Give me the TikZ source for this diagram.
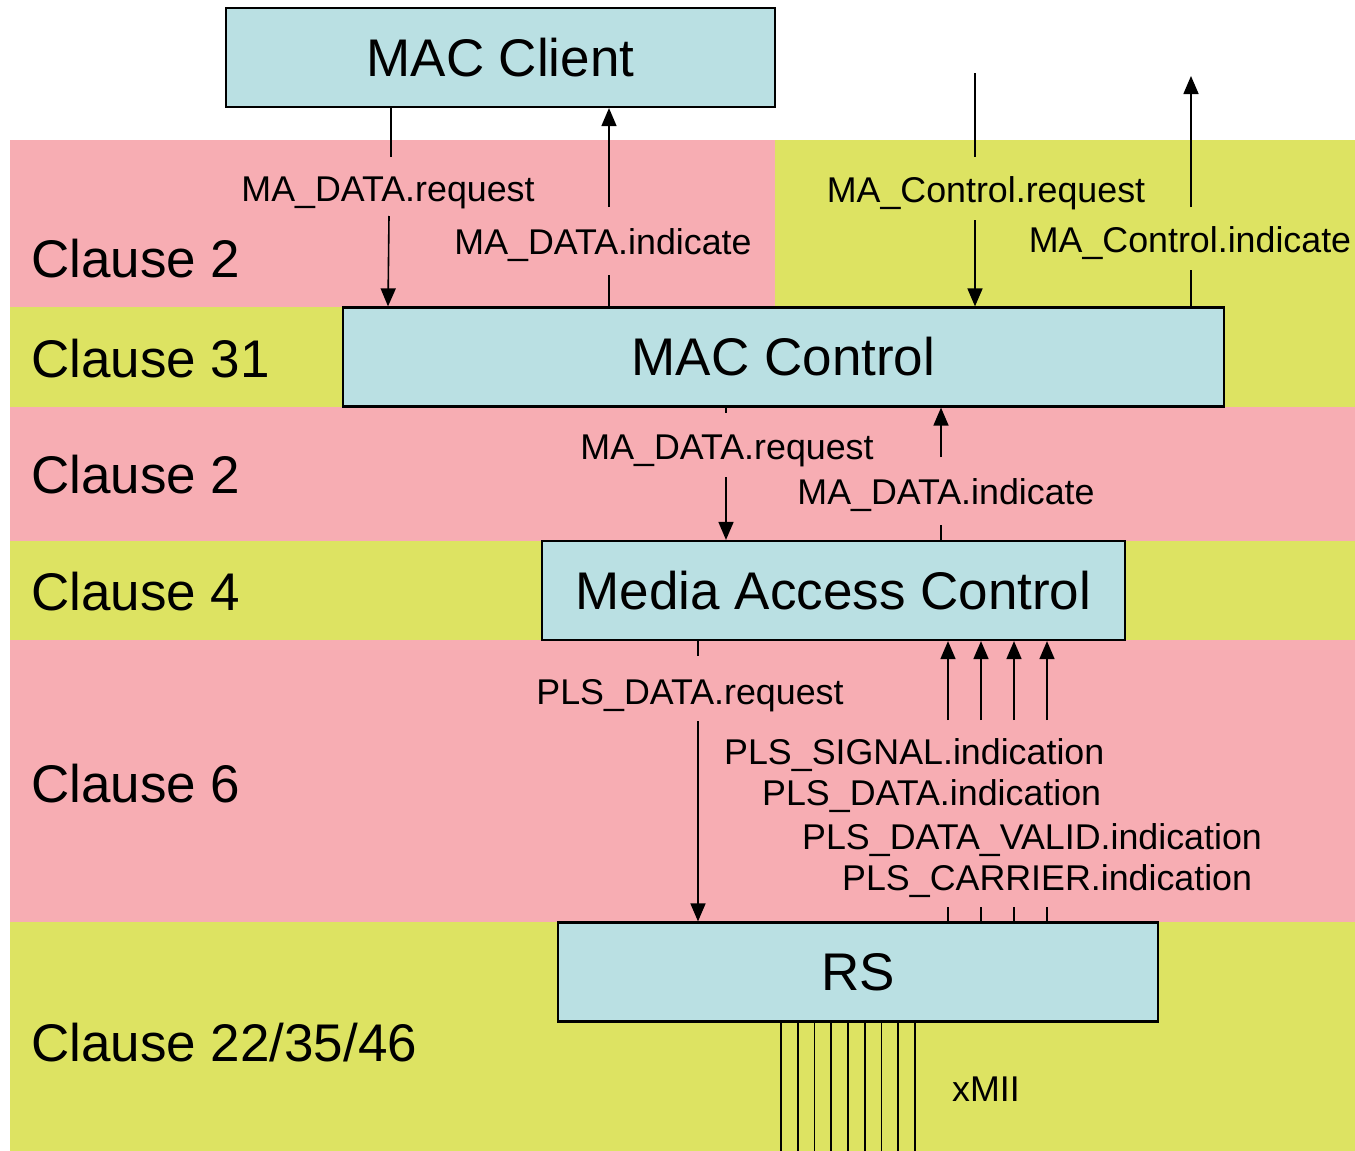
\documentclass[tikz,border=0pt]{standalone}
\usepackage{fontspec}
\setmainfont{Liberation Sans}
\usetikzlibrary{arrows.meta}
\definecolor{clpink}{RGB}{247,173,179}
\definecolor{clyellow}{RGB}{221,227,98}
\definecolor{clblue}{RGB}{186,224,227}

\begin{document}
\begin{tikzpicture}[x=1pt,y=-1pt,
  layer box/.style={draw,line width=2.2pt,fill=clblue,minimum width=#1,minimum height=99pt,
    inner sep=0pt,font=\fontsize{53}{60}\selectfont},
  clause/.style={anchor=base west,inner sep=0pt,font=\fontsize{53}{60}\selectfont},
  prim/.style={anchor=base,inner sep=0pt,font=\fontsize{35.8}{40}\selectfont},
  wire/.style={line width=1.6pt},
  arr/.style={wire,-{Triangle[length=18pt,width=15pt]}}]

  \useasboundingbox (0,0) rectangle (1355,1151);

  \fill[clpink]   (10,140) rectangle (775,307);
  \fill[clyellow] (775,140) rectangle (1355,307);
  \fill[clyellow] (10,307) rectangle (1355,407);
  \fill[clpink]   (10,407) rectangle (1355,541);
  \fill[clyellow] (10,541) rectangle (1355,640);
  \fill[clpink]   (10,640) rectangle (1355,922);
  \fill[clyellow] (10,922) rectangle (1355,1151);

  \node[clause] (c2a) at (31,277) {Clause 2};
  \node[clause] (c31) at (31,377) {Clause 31};
  \node[clause] (c2b) at (31,493) {Clause 2};
  \node[clause] (c4)  at (31,610) {Clause 4};
  \node[clause] (c6)  at (31,802) {Clause 6};
  \node[clause] (c22) at (31,1061) {Clause 22/35/46};

  \node[layer box=549pt] (client) at (500.5,57.5) {MAC Client};
  \node[layer box=881pt] (ctrl) at (783.5,357) {MAC Control};
  \node[layer box=583pt] (mac) at (833.5,590.5) {Media Access Control};
  \node[layer box=600pt] (rs) at (858,972) {RS};

  \node[prim] (dreqA) at (388,201) {MA\_DATA.request};
  \node[prim] (dindA) at (603,254) {MA\_DATA.indicate};
  \node[prim] (creq)  at (986,202) {MA\_Control.request};
  \node[prim] (cind)  at (1190,252) {MA\_Control.indicate};
  \node[prim] (dreqB) at (727,459) {MA\_DATA.request};
  \node[prim] (dindB) at (946,504) {MA\_DATA.indicate};
  \node[prim] (preq)  at (690,704) {PLS\_DATA.request};
  \node[prim,anchor=base west] (psig)  at (724,764) {PLS\_SIGNAL.indication};
  \node[prim,anchor=base west] (pdata) at (762,805) {PLS\_DATA.indication};
  \node[prim,anchor=base west] (pval)  at (802,849) {PLS\_DATA\_VALID.indication};
  \node[prim,anchor=base west] (pcar)  at (842,890) {PLS\_CARRIER.indication};
  \node[prim,anchor=base west] (xmii)  at (952,1101) {xMII};

  \coordinate (ctrlin) at (975,73);
  \coordinate (ctrlout) at (1191,76);

  \draw[wire] (client.south -| 391,0) -- (391,157);
  \draw[arr] (389,216) -- (ctrl.north -| 388,0);
  \draw[wire] (ctrl.north -| 609,0) -- (609,275);
  \draw[arr] (609,207) -- (client.south -| 609,0);

  \draw[wire] (ctrlin) -- (975,157);
  \draw[arr] (975,220) -- (ctrl.north -| ctrlin);
  \draw[wire] (ctrl.north -| ctrlout) -- (1191,270);
  \draw[arr] (1191,207) -- (ctrlout);

  \draw[wire] (ctrl.south -| 726,0) -- (726,413);
  \draw[arr] (726,477) -- (mac.north -| 726,0);
  \draw[wire] (mac.north -| 941,0) -- (941,525);
  \draw[arr] (941,457) -- (ctrl.south -| 941,0);

  \draw[wire] (mac.south -| 698,0) -- (698,656);
  \draw[arr] (698,721) -- (rs.north -| 698,0);
  \foreach \x in {948,981,1014,1047} {
    \draw[wire] (rs.north -| \x,0) -- (\x,907);
    \draw[arr] (\x,720) -- (mac.south -| \x,0);
  }

  \foreach \i in {0,...,8}
    \draw[wire] (rs.south -| 781+16.75*\i,0) -- (781+16.75*\i,1151);
\end{tikzpicture}
\end{document}
